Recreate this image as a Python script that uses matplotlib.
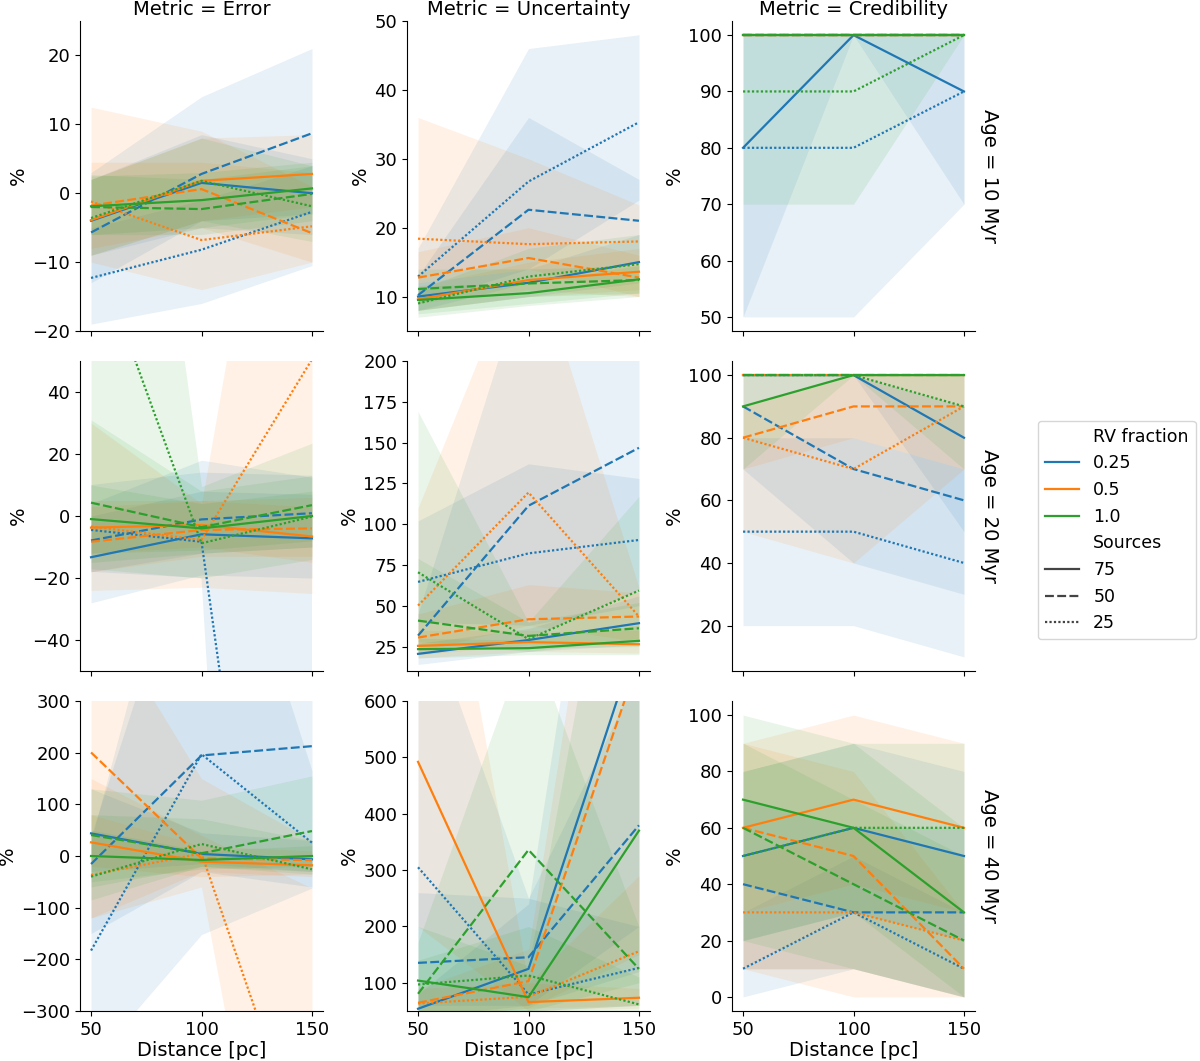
import matplotlib
matplotlib.use("Agg")
import matplotlib.pyplot as plt
from matplotlib.lines import Line2D

# ---------------- data ----------------
distance = [50, 100, 150]
rv_fractions = ["0.25", "0.5", "1.0"]
sources = ["75", "50", "25"]
ages = ["10", "20", "40"]
metrics = ["Error", "Uncertainty", "Credibility"]

# index order: [rv fraction][sources][distance]
# ---- Age 10 ----
err10_mean = [[[-4.0, 1.5, 0.0], [-5.7, 2.8, 8.7], [-12.3, -8.2, -2.7]],
              [[-3.9, 1.8, 2.8], [-1.8, 0.6, -5.8], [-1.2, -6.8, -4.8]],
              [[-1.9, -1.0, 0.7], [-2.0, -2.3, -0.1], [-3.6, 1.8, -1.9]]]
err10_lo = [[[-9, -5, -6], [-13, -4, -3], [-19, -16, -10.5]],
            [[-9, -4, -2], [-8, -5, -10], [-10, -14, -10]],
            [[-6, -5, -3], [-6, -6, -4], [-9, -4, -7]]]
err10_hi = [[[2, 8.5, 5], [3, 14, 21], [-5, -1, 4]],
            [[2, 8, 8.5], [12.5, 9, 1], [4.5, 4.5, 3]],
            [[2.5, 3, 4.5], [2.7, 2, 4], [2, 8, 4]]]

unc10_mean = [[[10, 12, 15], [10.2, 22.6, 21], [12.9, 26.7, 35.3]],
              [[9.6, 12.4, 13.6], [12.75, 15.6, 12.75], [18.4, 17.6, 18]],
              [[9.5, 10.5, 12.5], [11.1, 11.9, 12.4], [9, 12.9, 14.7]]]
unc10_lo = [[[8, 10, 12], [8, 12, 15], [9, 14, 24]],
            [[8, 10, 11], [9, 11, 10], [12, 14, 10]],
            [[7.5, 9, 10.5], [8, 10, 10.5], [7, 8.7, 10]]]
unc10_hi = [[[12, 14, 19], [13, 36, 27], [17, 46, 48]],
            [[11.5, 15, 17], [16.5, 20, 16], [36, 30, 23.3]],
            [[11.5, 12, 14.5], [14, 14, 14.5], [11, 17, 19]]]

cred10_mean = [[[80, 100, 90], [100, 100, 100], [80, 80, 90]],
               [[100, 100, 100], [100, 100, 100], [100, 100, 100]],
               [[100, 100, 100], [100, 100, 100], [90, 90, 100]]]
cred10_lo = [[[50, 100, 70], [100, 100, 100], [50, 50, 70]],
             [[100, 100, 100], [100, 100, 100], [100, 100, 100]],
             [[100, 100, 100], [100, 100, 100], [70, 70, 100]]]
cred10_hi = [[[100, 100, 100], [100, 100, 100], [100, 100, 100]],
             [[100, 100, 100], [100, 100, 100], [100, 100, 100]],
             [[100, 100, 100], [100, 100, 100], [100, 100, 100]]]

# ---- Age 20 ----
err20_mean = [[[-13.3, -5.9, -7.2], [-7.9, -1.1, 0.9], [-4.5, -8.3, -262]],
              [[-3.75, -2.9, -6.6], [-8.3, -4.5, -4.0], [-3.4, -7.7, 50.5]],
              [[-1.0, -4.0, 0.0], [4.3, -3.6, 3.5], [89.5, -8.8, -0.2]]]
err20_lo = [[[-28, -19, -20], [-18, -12, -10], [-18, -20, -600]],
            [[-12, -10, -15], [-18, -13, -13], [-24, -23, -25]],
            [[-12, -11, -8], [-15, -12, -10], [-17, -20, -14]]]
err20_hi = [[[0, 8, 7], [4, 18, 12.5], [10, 14, 13]],
            [[5, 5, 3], [3, 5, 6], [30, 4, 209]],
            [[10, 4, 8], [31, 8, 13], [270, 9.5, 23.5]]]

unc20_mean = [[[20.5, 29, 39.3], [31.7, 111.3, 146.8], [64.6, 82.1, 90.3]],
              [[25.4, 27.7, 26.4], [30.5, 41.7, 43.4], [50.1, 119.4, 43.4]],
              [[23.4, 24, 28.5], [40.9, 31.5, 36.2], [70.5, 29.5, 59.3]]]
unc20_lo = [[[14, 22, 26], [20, 30, 60], [40, 38, 50]],
            [[18, 22, 21], [20, 26, 28], [22, 38, 28]],
            [[18, 20, 20], [25, 24, 25], [28, 22, 30]]]
unc20_hi = [[[27, 36, 56], [45, 260, 300], [102, 137, 128]],
            [[35, 35, 35], [45, 63, 58], [110, 277, 61]],
            [[30, 29, 38], [79, 40, 52], [169, 40, 117]]]

cred20_mean = [[[100, 100, 80], [90, 70, 60], [50, 50, 40]],
               [[100, 100, 100], [80, 90, 90], [80, 70, 90]],
               [[90, 100, 100], [100, 100, 100], [100, 100, 90]]]
cred20_lo = [[[100, 100, 50], [70, 40, 30], [20, 20, 10]],
             [[100, 100, 100], [70, 80, 70], [50, 40, 70]],
             [[70, 100, 100], [100, 100, 100], [100, 100, 70]]]
cred20_hi = [[[100, 100, 100], [100, 100, 90], [80, 80, 70]],
             [[100, 100, 100], [90, 100, 100], [100, 100, 100]],
             [[100, 100, 100], [100, 100, 100], [100, 100, 100]]]

# ---- Age 40 ----
err40_mean = [[[43.8, 3.9, -6.4], [-15.5, 194.6, 212.6], [-183, 197, 25.8]],
              [[26.4, -11, -18], [200.4, -4.5, -8], [-36.7, 5, -617]],
              [[0, -7.7, 0], [40.6, 5.2, 48.3], [-40, 23.2, -25.8]]]
err40_lo = [[[-30, -15, -30], [-150, -30, -60], [-400, -152, -62]],
            [[-120, -30, -40], [-20, -40, -35], [-120, -60, -1200]],
            [[-50, -25, -20], [-60, -20, -30], [-85, -20, -35]]]
err40_hi = [[[130, 45, 30], [40, 700, 900], [30, 833, 165]],
            [[80, 20, 10], [500, 150, 30], [150, 40, -62]],
            [[50, 10, 20], [130, 108, 155], [80, 72, 30]]]

unc40_mean = [[[54, 124.8, 719], [135.4, 145.4, 379.5], [305, 79.4, 126.5]],
              [[492, 65.8, 73.5], [64.6, 103, 675], [63.4, 75.2, 156]],
              [[104, 74.6, 370], [80.5, 335.8, 124.8], [97, 113, 61.7]]]
unc40_lo = [[[40, 60, 200], [60, 60, 120], [50, 50, 60]],
            [[200, 50, 55], [40, 55, 150], [40, 55, 60]],
            [[50, 50, 100], [40, 50, 60], [50, 50, 40]]]
unc40_hi = [[[80, 240, 1500], [260, 250, 650], [800, 250, 200]],
            [[1200, 100, 90], [90, 160, 1400], [90, 100, 290]],
            [[200, 130, 1200], [172, 721, 200], [140, 200, 110]]]

cred40_mean = [[[50, 60, 50], [40, 30, 30], [10, 30, 10]],
               [[60, 70, 60], [60, 50, 10], [30, 30, 20]],
               [[70, 60, 30], [60, 40, 20], [50, 60, 60]]]
cred40_lo = [[[20, 30, 20], [10, 10, 0], [0, 10, 0]],
             [[30, 40, 30], [10, 0, 0], [10, 10, 0]],
             [[40, 30, 0], [20, 10, 0], [20, 30, 30]]]
cred40_hi = [[[80, 90, 80], [70, 60, 60], [30, 50, 30]],
             [[90, 100, 90], [90, 80, 30], [50, 60, 50]],
             [[100, 90, 60], [90, 70, 50], [80, 90, 90]]]

panels = {
    ("10", "Error"): (err10_mean, err10_lo, err10_hi),
    ("10", "Uncertainty"): (unc10_mean, unc10_lo, unc10_hi),
    ("10", "Credibility"): (cred10_mean, cred10_lo, cred10_hi),
    ("20", "Error"): (err20_mean, err20_lo, err20_hi),
    ("20", "Uncertainty"): (unc20_mean, unc20_lo, unc20_hi),
    ("20", "Credibility"): (cred20_mean, cred20_lo, cred20_hi),
    ("40", "Error"): (err40_mean, err40_lo, err40_hi),
    ("40", "Uncertainty"): (unc40_mean, unc40_lo, unc40_hi),
    ("40", "Credibility"): (cred40_mean, cred40_lo, cred40_hi),
}

# ---------------- styling ----------------
colors = ["#1f77b4", "#ff7f0e", "#2ca02c"]
dash_styles = [None, (4, 1.5), (1, 1)]

ylims = {
    ("10", "Error"): (-20, 25), ("10", "Uncertainty"): (5, 50), ("10", "Credibility"): (47.5, 102.5),
    ("20", "Error"): (-50, 50), ("20", "Uncertainty"): (10, 200), ("20", "Credibility"): (5.5, 104.5),
    ("40", "Error"): (-300, 300), ("40", "Uncertainty"): (50, 600), ("40", "Credibility"): (-5, 105),
}
yticks = {
    ("10", "Error"): [-20, -10, 0, 10, 20], ("10", "Uncertainty"): [10, 20, 30, 40, 50],
    ("10", "Credibility"): [50, 60, 70, 80, 90, 100],
    ("20", "Error"): [-40, -20, 0, 20, 40], ("20", "Uncertainty"): [25, 50, 75, 100, 125, 150, 175, 200],
    ("20", "Credibility"): [20, 40, 60, 80, 100],
    ("40", "Error"): [-300, -200, -100, 0, 100, 200, 300], ("40", "Uncertainty"): [100, 200, 300, 400, 500, 600],
    ("40", "Credibility"): [0, 20, 40, 60, 80, 100],
}

W, H = 1200, 1061
fig = plt.figure(figsize=(W / 100, H / 100), dpi=100)

col_left = [80, 407, 732]
row_top = [21, 361, 701]
aw, ah = 243, 310

for r, age in enumerate(ages):
    for c, metric in enumerate(metrics):
        ax = fig.add_axes([col_left[c] / W, 1 - (row_top[r] + ah) / H, aw / W, ah / H])
        mean, lo, hi = panels[(age, metric)]
        for i in range(3):
            for j in range(3):
                kw = {}
                if dash_styles[j] is not None:
                    kw["dashes"] = dash_styles[j]
                ax.plot(distance, mean[i][j], color=colors[i], lw=1.6, zorder=2, **kw)
                ax.fill_between(distance, lo[i][j], hi[i][j], color=colors[i], alpha=0.1,
                                linewidth=0, zorder=1)
        ax.set_xlim(45, 155)
        ax.set_ylim(*ylims[(age, metric)])
        ax.set_yticks(yticks[(age, metric)])
        ax.set_xticks(distance)
        ax.spines["top"].set_visible(False)
        ax.spines["right"].set_visible(False)
        ax.tick_params(labelsize=13)
        ax.set_ylabel("%", fontsize=14, labelpad=3)
        if r == 2:
            ax.set_xlabel("Distance [pc]", fontsize=14, labelpad=2)
        else:
            ax.tick_params(labelbottom=False)
        if r == 0:
            ax.set_title(f"Metric = {metric}", fontsize=14, pad=4)
        if c == 2:
            ax.annotate(f"Age = {age} Myr", xy=(1.02, 0.5), xycoords="axes fraction",
                        rotation=270, ha="left", va="center", fontsize=14)

# legend
handles = [Line2D([], [], color="none")]
labels = ["RV fraction"]
for i, rv in enumerate(rv_fractions):
    handles.append(Line2D([], [], color=colors[i], lw=1.6))
    labels.append(rv)
handles.append(Line2D([], [], color="none"))
labels.append("Sources")
for j, s in enumerate(sources):
    kw = {}
    if dash_styles[j] is not None:
        kw["dashes"] = dash_styles[j]
    handles.append(Line2D([], [], color="#444444", lw=1.6, **kw))
    labels.append(s)
fig.legend(handles, labels, loc="center left", bbox_to_anchor=(1029 / W, 1 - 530 / H),
           fontsize=12.5, frameon=True)

fig.savefig("out.png", dpi=100)
